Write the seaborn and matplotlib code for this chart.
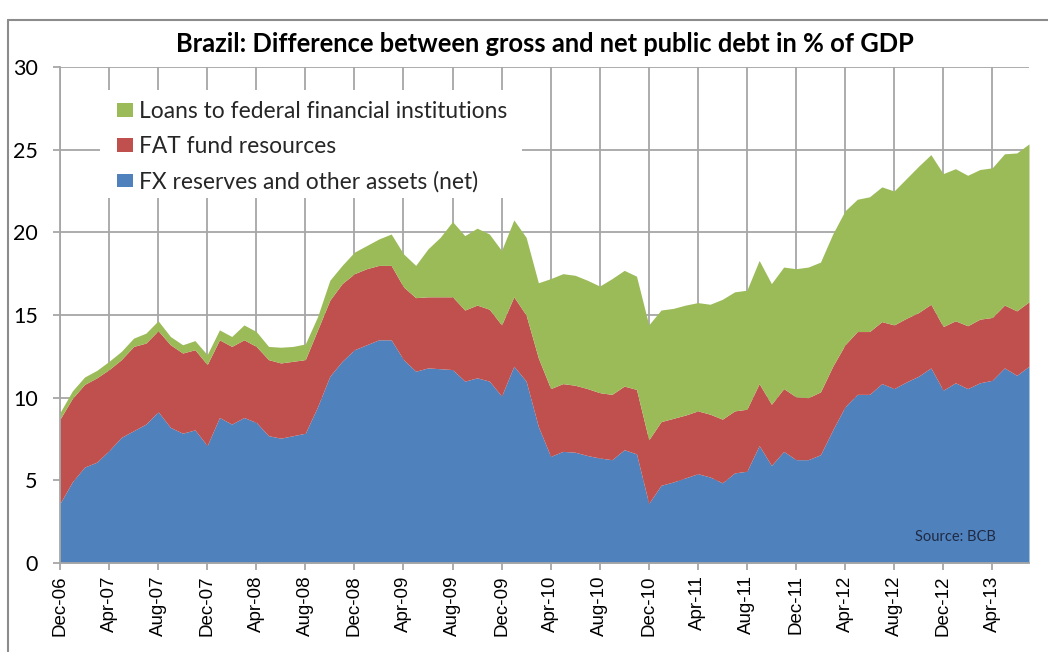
import numpy as np
import pandas as pd
import matplotlib
matplotlib.use("Agg")
import matplotlib.pyplot as plt
import seaborn as sns
from matplotlib.patches import Patch, Rectangle
from matplotlib.lines import Line2D

# Monthly observations, Dec-2006 .. Jul-2013 (% of GDP)
months = pd.date_range("2006-12-01", periods=80, freq="MS")

fx_reserves = [
    3.6, 4.9, 5.8, 6.1, 6.8, 7.6, 8.0, 8.4, 9.15, 8.2,
    7.85, 8.05, 7.1, 8.8, 8.4, 8.8, 8.5, 7.7, 7.55, 7.7,
    7.85, 9.45, 11.3, 12.2, 12.9, 13.2, 13.5, 13.5, 12.3, 11.6,
    11.8, 11.75, 11.7, 11.0, 11.2, 11.0, 10.1, 11.9, 11.0, 8.25,
    6.45, 6.75, 6.7, 6.5, 6.35, 6.25, 6.85, 6.6, 3.6, 4.7,
    4.9, 5.15, 5.4, 5.2, 4.85, 5.45, 5.55, 7.1, 5.9, 6.75,
    6.25, 6.25, 6.55, 8.05, 9.45, 10.2, 10.2, 10.85, 10.55, 10.95,
    11.3, 11.8, 10.45, 10.9, 10.55, 10.9, 11.05, 11.8, 11.35, 11.9,
]

fat_fund = [
    5.1, 5.05, 5.0, 5.1, 4.9, 4.7, 5.1, 4.9, 4.9, 5.0,
    4.85, 4.85, 4.9, 4.7, 4.7, 4.7, 4.6, 4.6, 4.55, 4.5,
    4.45, 4.65, 4.6, 4.7, 4.6, 4.6, 4.5, 4.5, 4.4, 4.45,
    4.3, 4.35, 4.4, 4.3, 4.4, 4.35, 4.3, 4.2, 4.0, 4.15,
    4.1, 4.1, 4.05, 4.05, 3.95, 3.95, 3.85, 3.9, 3.85, 3.85,
    3.85, 3.8, 3.8, 3.8, 3.85, 3.75, 3.75, 3.75, 3.7, 3.8,
    3.8, 3.75, 3.8, 3.85, 3.75, 3.8, 3.8, 3.75, 3.85, 3.85,
    3.85, 3.85, 3.85, 3.75, 3.8, 3.85, 3.8, 3.8, 3.9, 3.9,
]

fed_fin_loans = [
    0.4, 0.45, 0.45, 0.45, 0.5, 0.5, 0.5, 0.6, 0.6, 0.5,
    0.5, 0.55, 0.6, 0.6, 0.6, 0.9, 0.9, 0.8, 0.95, 0.9,
    0.95, 0.8, 1.2, 1.1, 1.3, 1.4, 1.6, 1.9, 2.0, 1.95,
    2.9, 3.6, 4.55, 4.5, 4.65, 4.55, 4.5, 4.65, 4.7, 4.55,
    6.65, 6.65, 6.65, 6.55, 6.45, 7.0, 7.0, 6.85, 6.95, 6.75,
    6.65, 6.65, 6.55, 6.65, 7.25, 7.2, 7.2, 7.45, 7.3, 7.35,
    7.75, 7.9, 7.85, 8.0, 8.1, 8.0, 8.15, 8.15, 8.1, 8.45,
    8.85, 9.05, 9.25, 9.2, 9.1, 9.05, 9.05, 9.15, 9.55, 9.55,
]

series_labels = [
    "FX reserves and other assets (net)",
    "FAT fund resources",
    "Loans to federal financial institutions",
]
series_colors = ["#4F81BD", "#C0504D", "#9BBB59"]
title = "Brazil: Difference between gross and net public debt in % of GDP"
source_note = "Source: BCB"

sns.set_theme(style="white")
plt.rcParams["font.family"] = ["Lato", "DejaVu Sans"]

W, H = 1048, 652
fig = plt.figure(figsize=(W / 100, H / 100), dpi=100)
fig.patch.set_facecolor("white")

# plot area in pixel terms
left, right, top, bottom = 60, 1029, 67, 563
ax = fig.add_axes([left / W, 1 - bottom / H, (right - left) / W, (bottom - top) / H])

x = np.arange(len(months))
ax.stackplot(x, fx_reserves, fat_fund, fed_fin_loans,
             colors=series_colors, linewidth=0, zorder=2)

ax.set_xlim(0, len(months) - 1)
ax.set_ylim(0, 30)
ax.set_yticks(range(0, 31, 5))
ax.set_xticks(x[::4])
ax.set_xticklabels([m.strftime("%b-%y") for m in months[::4]], rotation=90,
                   fontfamily=["Liberation Sans", "DejaVu Sans"], fontsize=13.5)
for lab in ax.get_yticklabels():
    lab.set_fontsize(15.5)

grid_col = "#A6A6A6"
ax.grid(True, color=grid_col, linewidth=1.3)
ax.set_axisbelow(True)
for side in ["top", "right"]:
    ax.spines[side].set_visible(False)
for side in ["left", "bottom"]:
    ax.spines[side].set_color(grid_col)
    ax.spines[side].set_linewidth(1.3)
ax.tick_params(axis="both", which="major", direction="out", length=5, width=1.3,
               color=grid_col, labelcolor="black", bottom=True, left=True)
ax.tick_params(axis="y", pad=11)
ax.tick_params(axis="x", pad=4)
ax.set_xlabel("")
ax.set_ylabel("")

# white panel behind the legend
ax.add_patch(Rectangle((100 / W, 1 - 198 / H), 422 / W, 108 / H,
                       transform=fig.transFigure, facecolor="white",
                       edgecolor="none", zorder=1.5))

handles = [Patch(facecolor=c, edgecolor="none") for c in series_colors[::-1]]
ax.legend(handles, series_labels[::-1], loc="upper left",
          bbox_to_anchor=(117 / W, 1 - 101 / H), bbox_transform=fig.transFigure,
          frameon=False, fontsize=16.4, handlelength=0.7, handleheight=0.53,
          handletextpad=0.26, labelspacing=0.62, borderpad=0, borderaxespad=0)

fig.text(545 / W, 1 - 44 / H, title, ha="center", va="center",
         fontsize=18.4, fontweight="bold", color="black")
fig.text(955 / W, 1 - 537 / H, source_note, ha="center", va="center",
         fontsize=10.5, color="#1F2A44")

# chart frame
frame_col = "#8C8C8C"
fig.add_artist(Line2D([8 / W, 8 / W], [0, 1 - 20 / H], transform=fig.transFigure,
                      color=frame_col, linewidth=1.5))
fig.add_artist(Line2D([8 / W, 1], [1 - 20 / H, 1 - 20 / H], transform=fig.transFigure,
                      color=frame_col, linewidth=1.5))

fig.savefig("out.png", dpi=100, facecolor="white")
